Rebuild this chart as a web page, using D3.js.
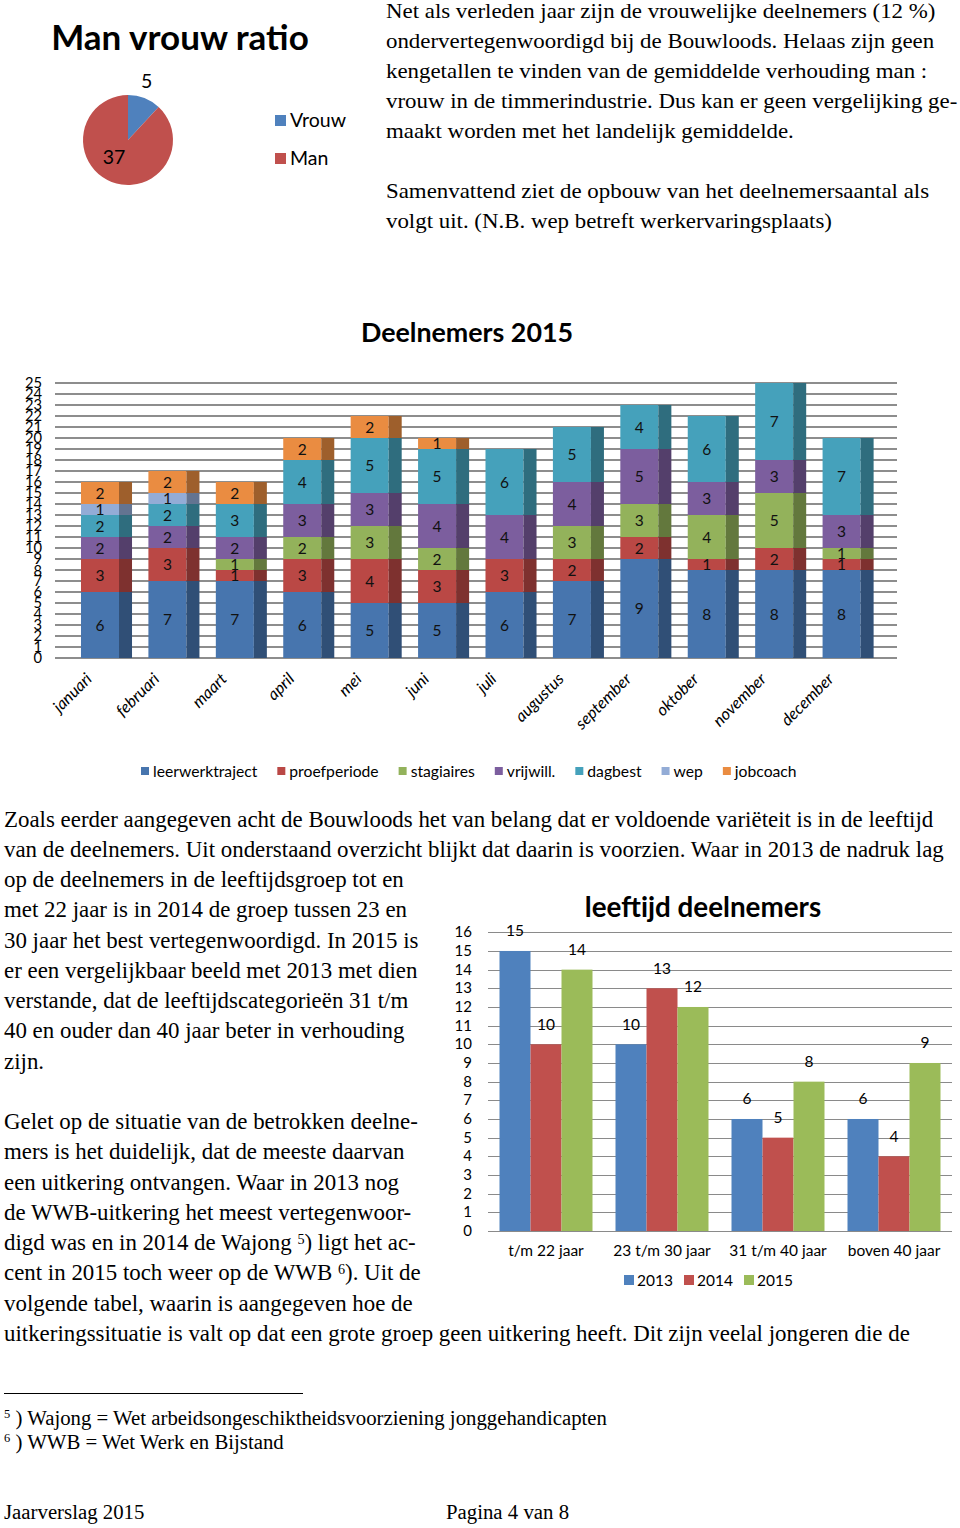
<!DOCTYPE html>
<html><head><meta charset="utf-8">
<script src="https://cdn.jsdelivr.net/npm/d3@7"></script>
<style>
body{margin:0;background:#fff}
svg{display:block}
.serif{font-family:"Liberation Serif","Times New Roman",serif;fill:#000}
.sans{font-family:Lato,"Open Sans",sans-serif}
</style></head>
<body>
<svg id="page" width="960" height="1528"></svg>
<script>
// ---------- DATA ----------
const pieLabels = ["Vrouw", "Man"];
const pieValues = [5, 37];

const months = ["januari","februari","maart","april","mei","juni","juli","augustus","september","oktober","november","december"];
const seriesNames = ["leerwerktraject","proefperiode","stagiaires","vrijwill.","dagbest","wep","jobcoach"];
const leerwerktraject = [6,7,7,6,5,5,6,7,9,8,8,8];
const proefperiode    = [3,3,1,3,4,3,3,2,2,1,2,1];
const stagiaires      = [0,0,1,2,3,2,0,3,3,4,5,1];
const vrijwill        = [2,2,2,3,3,4,4,4,5,3,3,3];
const dagbest         = [2,2,3,4,5,5,6,5,4,6,7,7];
const wep             = [1,1,0,0,0,0,0,0,0,0,0,0];
const jobcoach        = [2,2,2,2,2,1,0,0,0,0,0,0];
const stackTicks = d3.range(0, 26);

const ageGroups = ["t/m 22 jaar","23 t/m 30 jaar","31 t/m 40 jaar","boven 40 jaar"];
const years = ["2013","2014","2015"];
const age2013 = [15,10,6,6];
const age2014 = [10,13,5,4];
const age2015 = [14,12,8,9];
const ageTicks = d3.range(0, 17);

const textTop = [
  "Net als verleden jaar zijn de vrouwelijke deelnemers (12 %)",
  "ondervertegenwoordigd bij de Bouwloods. Helaas zijn geen",
  "kengetallen te vinden van de gemiddelde verhouding man :",
  "vrouw in de timmerindustrie. Dus kan er geen vergelijking ge-",
  "maakt worden met het landelijk gemiddelde.",
  "",
  "Samenvattend ziet de opbouw van het deelnemersaantal als",
  "volgt uit. (N.B. wep betreft werkervaringsplaats)"
];
const textMid = [
  "Zoals eerder aangegeven acht de Bouwloods het van belang dat er voldoende variëteit is in de leeftijd",
  "van de deelnemers. Uit onderstaand overzicht blijkt dat daarin is voorzien. Waar in 2013 de nadruk lag",
  "op de deelnemers in de leeftijdsgroep tot en",
  "met 22 jaar is in 2014 de groep tussen 23 en",
  "30 jaar het best vertegenwoordigd. In 2015 is",
  "er een vergelijkbaar beeld met 2013 met dien",
  "verstande, dat de leeftijdscategorieën 31 t/m",
  "40 en ouder dan 40 jaar beter in verhouding",
  "zijn.",
  "",
  "Gelet op de situatie van de betrokken deelne-",
  "mers is het duidelijk, dat de meeste daarvan",
  "een uitkering ontvangen. Waar in 2013 nog",
  "de WWB-uitkering het meest vertegenwoor-",
  "digd was en in 2014 de Wajong |5|) ligt het ac-",
  "cent in 2015 toch weer op de WWB |6|). Uit de",
  "volgende tabel, waarin is aangegeven hoe de",
  "uitkeringssituatie is valt op dat een grote groep geen uitkering heeft. Dit zijn veelal jongeren die de"
];
const footnotes = [
  ["5", " ) Wajong = Wet arbeidsongeschiktheidsvoorziening jonggehandicapten"],
  ["6", " ) WWB = Wet Werk en Bijstand"]
];

// ---------- SETUP ----------
const svg = d3.select("#page");
svg.append("rect").attr("width",960).attr("height",1528).attr("fill","#fff");

function richLine(sel, str){
  str.split("|").forEach((seg,i)=>{
    if(!seg) return;
    const t = sel.append("tspan").text(seg);
    if(i%2===1){ t.attr("font-size","0.62em").attr("dy","-0.45em"); }
    else if(i>0){ t.attr("dy","0.28em"); }
  });
}

// ---------- TEXT BLOCKS ----------
const gTop = svg.append("g").attr("class","serif").attr("font-size",21.5)
  .attr("transform","translate(386,0) scale(1.065,1)");
textTop.forEach((l,i)=>{ if(l) gTop.append("text").attr("x",0).attr("y",18+i*30).text(l); });

const gMid = svg.append("g").attr("class","serif").attr("font-size",22.9);
textMid.forEach((l,i)=>{ if(l){ const t=gMid.append("text").attr("x",4).attr("y",826.5+i*30.25); richLine(t,l);} });

svg.append("line").attr("x1",4).attr("x2",303).attr("y1",1393.5).attr("y2",1393.5).attr("stroke","#000").attr("stroke-width",1);
const gFn = svg.append("g").attr("class","serif").attr("font-size",20.8);
footnotes.forEach((f,i)=>{
  const t = gFn.append("text").attr("x",4).attr("y",1424.5+i*24);
  t.append("tspan").attr("font-size","0.6em").attr("dy","-0.5em").text(f[0]);
  t.append("tspan").attr("dy","0.3em").text(f[1]);
});
svg.append("text").attr("class","serif").attr("font-size",20.8).attr("x",4).attr("y",1519).text("Jaarverslag 2015");
svg.append("text").attr("class","serif").attr("font-size",20.8).attr("x",446).attr("y",1519).text("Pagina 4 van 8");

// ---------- PIE ----------
const pieColors = d3.scaleOrdinal().domain(pieLabels).range(["#4F81BD","#C0504D"]);
svg.append("text").attr("class","sans").attr("font-weight","bold").attr("font-size",35)
  .attr("x",180).attr("y",50).attr("text-anchor","middle").attr("fill","#000").text("Man vrouw ratio");
const pieData = d3.pie().sort(null)(pieValues);
const arc = d3.arc().innerRadius(0).outerRadius(45);
const gPie = svg.append("g").attr("transform","translate(128,140)");
gPie.selectAll("path").data(pieData).enter().append("path")
  .attr("d",arc).attr("fill",(d,i)=>pieColors(pieLabels[i]));
const lblR = [62, 19];
const lblDx = [-4, -7];
gPie.selectAll("text").data(pieData).enter().append("text")
  .attr("class","sans").attr("font-size",19.5).attr("text-anchor","middle").attr("fill","#000")
  .attr("x",(d,i)=>{const a=(d.startAngle+d.endAngle)/2; return Math.sin(a)*lblR[i]+lblDx[i];})
  .attr("y",(d,i)=>{const a=(d.startAngle+d.endAngle)/2; return -Math.cos(a)*lblR[i]+6;})
  .text(d=>d.data);
const gPL = svg.append("g").attr("class","sans").attr("font-size",19.5);
pieLabels.forEach((n,i)=>{
  gPL.append("rect").attr("x",275).attr("y",115+i*38).attr("width",11).attr("height",11).attr("fill",pieColors(n));
  gPL.append("text").attr("x",290).attr("y",127+i*38).attr("fill","#000").text(n);
});

// ---------- STACKED 3D-LOOK BAR CHART ----------
const seriesArrays = [leerwerktraject,proefperiode,stagiaires,vrijwill,dagbest,wep,jobcoach];
const stackColors = d3.scaleOrdinal().domain(seriesNames)
  .range(["#4775AE","#BA4845","#93B25B","#7C5E9E","#45A1BB","#93ACD6","#EA8C41"]);
const rows = months.map((m,i)=>{ const r={month:m}; seriesNames.forEach((s,k)=>r[s]=seriesArrays[k][i]); return r; });
const stacked = d3.stack().keys(seriesNames)(rows);

const yS = d3.scaleLinear().domain([0,25]).range([658,383]);
const xS = d3.scaleBand().domain(months).range([72.9,881.7]).paddingInner(0.243).paddingOuter(0.12);
const frontW = xS.bandwidth()*0.745;

svg.append("text").attr("class","sans").attr("font-weight","bold").attr("font-size",26.8)
  .attr("x",467).attr("y",342).attr("text-anchor","middle").attr("fill","#000").text("Deelnemers 2015");

const gGrid = svg.append("g");
gGrid.selectAll("line").data(stackTicks).enter().append("line")
  .attr("x1",55).attr("x2",897).attr("y1",d=>yS(d)).attr("y2",d=>yS(d))
  .attr("stroke","#8d8d8d").attr("stroke-width",2.2);
const gYl = svg.append("g").attr("class","sans").attr("font-size",15.5).attr("fill","#000");
gYl.selectAll("text").data(stackTicks).enter().append("text")
  .attr("text-anchor","end").attr("x",42).attr("y",d=>yS(d)+5.5)
  .attr("transform",`translate(42,0) scale(0.95,1) translate(-42,0)`)
  .text(d=>d);

const gBars = svg.append("g");
stacked.forEach(layer=>{
  const col = stackColors(layer.key);
  const g = gBars.append("g");
  g.selectAll("rect.front").data(layer).enter().append("rect").attr("class","front")
    .attr("x",d=>xS(d.data.month)).attr("width",frontW)
    .attr("y",d=>yS(d[1])).attr("height",d=>yS(d[0])-yS(d[1])).attr("fill",col);
  g.selectAll("rect.side").data(layer).enter().append("rect").attr("class","side")
    .attr("x",d=>xS(d.data.month)+frontW).attr("width",xS.bandwidth()-frontW)
    .attr("y",d=>yS(d[1])).attr("height",d=>yS(d[0])-yS(d[1])).attr("fill",d3.color(col).darker(1.1));
});
const gLbl = svg.append("g").attr("class","sans").attr("font-size",15.5).attr("fill","#111").attr("text-anchor","middle");
stacked.forEach(layer=>{
  gLbl.selectAll(null).data(layer.filter(d=>d[1]-d[0]>0)).enter().append("text")
    .attr("x",d=>xS(d.data.month)+frontW/2).attr("y",d=>(yS(d[0])+yS(d[1]))/2+5.5)
    .text(d=>d[1]-d[0]);
});
const gXl = svg.append("g").attr("class","sans").attr("font-size",16.3).attr("font-style","italic").attr("fill","#000");
gXl.selectAll("text").data(months).enter().append("text")
  .attr("text-anchor","end")
  .attr("transform",d=>`translate(${xS(d)+12},680) rotate(-45)`)
  .text(d=>d);

// legend
const gLeg = svg.append("g").attr("class","sans").attr("font-size",15.7).attr("fill","#000");
let lx = 141;
seriesNames.forEach(n=>{
  gLeg.append("rect").attr("x",lx).attr("y",767).attr("width",8).attr("height",8).attr("fill",stackColors(n));
  const t = gLeg.append("text").attr("x",lx+12).attr("y",777).text(n);
  lx += 12 + t.node().getComputedTextLength() + 20;
});

// ---------- GROUPED BAR CHART ----------
const ageSeries = [age2013, age2014, age2015];
const ageColors = d3.scaleOrdinal().domain(years).range(["#4F81BD","#C0504D","#9BBB59"]);
const yA = d3.scaleLinear().domain([0,16]).range([1231,932.3]);
const xA = d3.scaleBand().domain(ageGroups).range([488,952]).paddingInner(0).paddingOuter(0);
const xInner = d3.scaleBand().domain(years).range([11.5, xA.bandwidth()-11.5]);

svg.append("text").attr("class","sans").attr("font-weight","bold").attr("font-size",27.8)
  .attr("x",703).attr("y",917).attr("text-anchor","middle").attr("fill","#000").text("leeftijd deelnemers");
const gAG = svg.append("g");
gAG.selectAll("line").data(ageTicks).enter().append("line")
  .attr("x1",488).attr("x2",952).attr("y1",d=>Math.round(yA(d))+0.5).attr("y2",d=>Math.round(yA(d))+0.5)
  .attr("stroke","#8a8a8a").attr("stroke-width",1);
const gAY = svg.append("g").attr("class","sans").attr("font-size",15).attr("fill","#000");
gAY.selectAll("text").data(ageTicks).enter().append("text")
  .attr("text-anchor","end").attr("x",472).attr("y",d=>yA(d)+5).text(d=>d);
years.forEach((yr,k)=>{
  const g = svg.append("g");
  const vals = ageSeries[k];
  g.selectAll("rect").data(ageGroups).enter().append("rect")
    .attr("x",(c)=>xA(c)+xInner(yr)).attr("width",xInner.bandwidth())
    .attr("y",(c,i)=>yA(vals[i])).attr("height",(c,i)=>yA(0)-yA(vals[i]))
    .attr("fill",ageColors(yr));
  g.selectAll("text").data(ageGroups).enter().append("text")
    .attr("class","sans").attr("font-size",15.5).attr("text-anchor","middle").attr("fill","#000")
    .attr("x",(c)=>xA(c)+xInner(yr)+xInner.bandwidth()/2)
    .attr("y",(c,i)=>yA(vals[i])-14.5).text((c,i)=>vals[i]);
});
const gAX = svg.append("g").attr("class","sans").attr("font-size",15.5).attr("fill","#000");
gAX.selectAll("text").data(ageGroups).enter().append("text")
  .attr("text-anchor","middle").attr("x",d=>xA(d)+xA.bandwidth()/2).attr("y",1256).text(d=>d);
const gAL = svg.append("g").attr("class","sans").attr("font-size",15.5).attr("fill","#000");
years.forEach((yr,k)=>{
  const ax = 624 + k*60;
  gAL.append("rect").attr("x",ax).attr("y",1275).attr("width",10).attr("height",10).attr("fill",ageColors(yr));
  gAL.append("text").attr("x",ax+13).attr("y",1285.5).text(yr);
});
</script>
</body></html>
